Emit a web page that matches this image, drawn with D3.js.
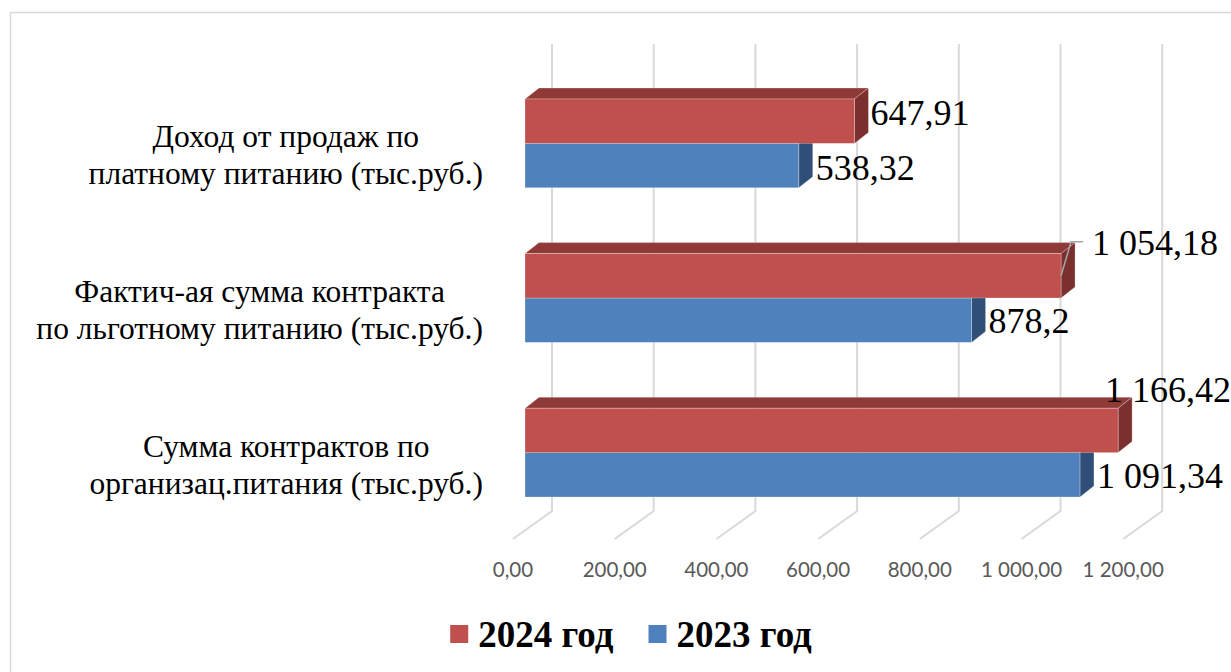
<!DOCTYPE html>
<html>
<head>
<meta charset="utf-8">
<script src="https://cdn.jsdelivr.net/npm/d3@7"></script>
<style>
    html, body { margin: 0; padding: 0; background: white; overflow: hidden; }
</style>
</head>
<body>
<div id="chart"></div>
<script>
// Categories (top to bottom) and series values
const categories = [
    ['Доход от продаж по', 'платному питанию (тыс.руб.)'],
    ['Фактич-ая сумма контракта', 'по льготному питанию (тыс.руб.)'],
    ['Сумма контрактов по', 'организац.питания (тыс.руб.)']
];
const seriesNames = ['2024 год', '2023 год'];
const values2024 = [647.91, 1054.18, 1166.42];
const values2023 = [538.32, 878.2, 1091.34];
const valueLabels2024 = ['647,91', '1 054,18', '1 166,42'];
const valueLabels2023 = ['538,32', '878,2', '1 091,34'];
const tickValues = [0, 200, 400, 600, 800, 1000, 1200];
const tickLabels = ['0,00', '200,00', '400,00', '600,00', '800,00', '1 000,00', '1 200,00'];

const colors = {
    '2024 год': {front: '#c0504d', top: '#903a38', side: '#7b302e'},
    '2023 год': {front: '#4f81bd', top: '#3c6594', side: '#2f4f78'}
};

const width = 1231, height = 672;
// front plane origin of the floor and depth vector of the 3d box
const origin = {x: 513, y: 539};
const depth = {x: 39, y: -28};
const barShift = 12;              // bar front face offset from the front plane
const barDepth = {x: 14, y: -11}; // visible thickness of the bars

const svg = d3.select('#chart').append('svg')
    .attr('width', width)
    .attr('height', height);

// chart frame
svg.append('rect')
    .attr('x', 10.5).attr('y', 12.5)
    .attr('width', 1240).attr('height', 700)
    .attr('fill', 'white')
    .attr('stroke', '#d9d9d9')
    .attr('stroke-width', 1.5);

const xScale = d3.scaleLinear().domain([0, 1200]).range([0, 610.2]);
const yScale = d3.scaleBand()
    .domain(d3.range(categories.length))
    .range([99, 497])
    .paddingInner(0.426)
    .paddingOuter(0);
const ySeries = d3.scaleBand().domain(seriesNames).range([0, yScale.bandwidth()]);

// back wall gridlines + floor lines
const grid = svg.append('g').attr('class', 'grid');
tickValues.forEach(v => {
    const xb = origin.x + depth.x + xScale(v);
    const xf = origin.x + xScale(v);
    grid.append('path')
        .attr('d', `M${xb},44 L${xb},${origin.y + depth.y} L${xf},${origin.y}`)
        .attr('fill', 'none')
        .attr('stroke', '#d9d9d9')
        .attr('stroke-width', 2);
});

// axis tick labels
svg.append('g').selectAll('text')
    .data(tickValues)
    .join('text')
    .attr('x', (d) => origin.x + xScale(d))
    .attr('y', 577)
    .attr('text-anchor', 'middle')
    .style('font-family', 'Lato, "Liberation Sans", sans-serif')
    .style('font-size', '20.5px')
    .style('fill', '#595959')
    .text((d, i) => tickLabels[i]);

// bars: 2023 first so the 2024 bars cover their top faces
const x0 = origin.x + barShift;
const bars = [];
categories.forEach((c, i) => {
    bars.push({cat: i, series: '2023 год', value: values2023[i], label: valueLabels2023[i]});
});
categories.forEach((c, i) => {
    bars.push({cat: i, series: '2024 год', value: values2024[i], label: valueLabels2024[i]});
});

const barG = svg.append('g');
bars.forEach(b => {
    const y = yScale(b.cat) + ySeries(b.series);
    const h = ySeries.bandwidth();
    const xe = x0 + xScale(b.value);
    const dx = barDepth.x, dy = barDepth.y;
    const col = colors[b.series];
    barG.append('path')
        .attr('d', `M${x0},${y} L${x0 + dx},${y + dy} L${xe + dx},${y + dy} L${xe},${y} Z`)
        .attr('fill', col.top)
        .attr('stroke', 'rgba(255,255,255,0.35)')
        .attr('stroke-width', 0.75);
    barG.append('path')
        .attr('d', `M${xe},${y} L${xe + dx},${y + dy} L${xe + dx},${y + h + dy} L${xe},${y + h} Z`)
        .attr('fill', col.side)
        .attr('stroke', 'rgba(255,255,255,0.35)')
        .attr('stroke-width', 0.75);
    barG.append('rect')
        .attr('x', x0).attr('y', y)
        .attr('width', xe - x0).attr('height', h)
        .attr('fill', col.front)
        .attr('stroke', 'rgba(255,255,255,0.35)')
        .attr('stroke-width', 0.75);
});

// value labels (some were dragged in the original)
const labelNudge = {
    '2024 год|0': {dx: -1, dy: 4},
    '2024 год|1': {dx: 14, dy: -21, leader: true},
    '2024 год|2': {dx: -30, dy: -28},
    '2023 год|0': {dx: 0, dy: 14},
    '2023 год|1': {dx: 0, dy: 13},
    '2023 год|2': {dx: 0, dy: 13}
};
const labelG = svg.append('g');
bars.forEach(b => {
    const y = yScale(b.cat) + ySeries(b.series);
    const cy = y + ySeries.bandwidth() / 2;
    const xe = x0 + xScale(b.value);
    const n = labelNudge[b.series + '|' + b.cat];
    const lx = xe + barDepth.x + 3 + n.dx;
    if (n.leader) {
        labelG.append('path')
            .attr('d', `M${xe},${cy} L${xe + 10},${cy - 34} L${xe + 22},${cy - 34}`)
            .attr('fill', 'none')
            .attr('stroke', '#a6a6a6')
            .attr('stroke-width', 1.5);
    }
    labelG.append('text')
        .attr('x', lx)
        .attr('y', cy + n.dy)
        .style('font-family', '"Liberation Serif", "Times New Roman", serif')
        .style('font-size', '36px')
        .style('fill', 'black')
        .text(b.label);
});

// category labels, two centered lines right-aligned as a block
const catG = svg.append('g');
categories.forEach((lines, i) => {
    const cy = yScale(i) + yScale.bandwidth() / 2;
    const texts = lines.map((line, k) => catG.append('text')
        .attr('y', cy + 4 + k * 37)
        .attr('text-anchor', 'middle')
        .style('font-family', '"Liberation Serif", "Times New Roman", serif')
        .style('font-size', '31.5px')
        .style('fill', 'black')
        .text(line));
    const maxW = d3.max(texts, t => t.node().getComputedTextLength());
    texts.forEach(t => t.attr('x', 483 - maxW / 2));
});

// legend
const legend = svg.append('g');
let lx = 0;
seriesNames.forEach(s => {
    legend.append('rect')
        .attr('x', lx).attr('y', -22)
        .attr('width', 18).attr('height', 18)
        .attr('fill', colors[s].front);
    const t = legend.append('text')
        .attr('x', lx + 28).attr('y', 0)
        .style('font-family', '"Liberation Serif", "Times New Roman", serif')
        .style('font-size', '37px')
        .style('font-weight', 'bold')
        .text(s);
    lx += 28 + t.node().getComputedTextLength() + 35;
});
lx -= 35;
legend.attr('transform', `translate(${631 - lx / 2},647)`);
</script>
</body>
</html>
